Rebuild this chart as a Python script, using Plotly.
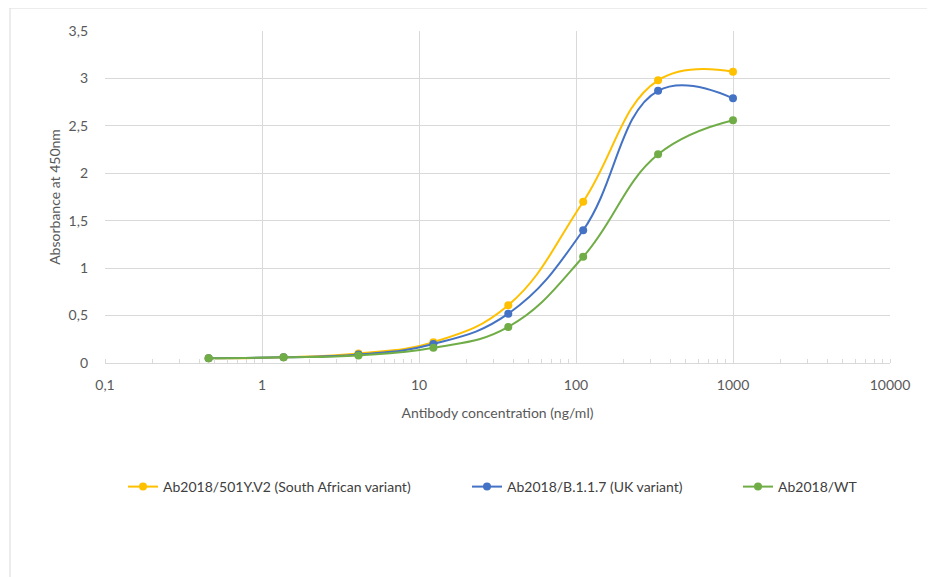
import plotly.graph_objects as go

# ---- data ----
concentration = [0.457, 1.372, 4.115, 12.35, 37.04, 111.1, 333.3, 1000]
sa_variant = [0.05, 0.06, 0.10, 0.22, 0.61, 1.70, 2.98, 3.07]
uk_variant = [0.05, 0.06, 0.09, 0.20, 0.52, 1.40, 2.87, 2.79]
wild_type = [0.05, 0.06, 0.08, 0.16, 0.38, 1.12, 2.20, 2.56]

series_names = ["Ab2018/501Y.V2 (South African variant)",
                "Ab2018/B.1.1.7 (UK variant)",
                "Ab2018/WT"]
series_colors = ["#FFC000", "#4472C4", "#70AD47"]

x_tick_vals = [0.1, 1, 10, 100, 1000, 10000]
x_tick_text = ["0,1", "1", "10", "100", "1000", "10000"]
y_tick_vals = [0, 0.5, 1, 1.5, 2, 2.5, 3, 3.5]
y_tick_text = ["0", "0,5", "1", "1,5", "2", "2,5", "3", "3,5"]

FONT = "Lato"
FS = 14
OFF = 8  # page body margin
W, H = 935 - OFF, 577 - OFF
# plot area in screen pixels
SX0, SX1, SY0, SY1 = 105, 890, 31, 363
L = SX0 - OFF
R = W - (SX1 - OFF)
T = SY0 - OFF
B = H - (SY1 - OFF)
pw, ph = SX1 - SX0, SY1 - SY0


def px_to_paper_x(sx):
    return (sx - SX0) / pw


def px_to_paper_y(sy):
    return (SY1 - sy) / ph


fig = go.Figure()
legends = ["legend", "legend2", "legend3"]
for vals, name, color, lg in zip([sa_variant, uk_variant, wild_type],
                                 series_names, series_colors, legends):
    fig.add_trace(go.Scatter(
        x=concentration, y=vals, name=name, mode="lines+markers",
        line=dict(color=color, width=2, shape="spline", smoothing=1.2),
        marker=dict(color=color, size=8),
        legend=lg,
    ))

legend_x_px = [123, 467, 738]
legend_common = dict(orientation="h", yanchor="middle", xanchor="left",
                     font=dict(family=FONT, size=FS, color="#404040"),
                     bgcolor="rgba(0,0,0,0)")
legend_layouts = {}
for lg, xp in zip(legends, legend_x_px):
    legend_layouts[lg] = dict(x=px_to_paper_x(xp), y=px_to_paper_y(487),
                              **legend_common)

fig.update_layout(
    width=W, height=H,
    margin=dict(l=L, r=R, t=T, b=B),
    plot_bgcolor="white", paper_bgcolor="white",
    font=dict(family=FONT, size=FS, color="#595959"),
    showlegend=True,
    **legend_layouts,
    xaxis=dict(
        type="log", range=[-1, 4],
        tickmode="array", tickvals=x_tick_vals, ticktext=x_tick_text,
        showgrid=True, gridcolor="#d9d9d9", gridwidth=1,
        showline=True, linecolor="#d9d9d9", linewidth=1,
        ticks="", zeroline=False, ticklabelstandoff=9,
        minor=dict(ticks="inside", ticklen=4, tickcolor="#d9d9d9",
                   dtick="D1", showgrid=False),
        tickfont=dict(family=FONT, size=FS, color="#595959"),
        title=dict(text="Antibody concentration (ng/ml)",
                   font=dict(family=FONT, size=FS, color="#595959"),
                   standoff=16),
    ),
    yaxis=dict(
        range=[0, 3.5],
        tickmode="array", tickvals=y_tick_vals, ticktext=y_tick_text,
        showgrid=True, gridcolor="#d9d9d9", gridwidth=1,
        zeroline=False, ticks="", ticklabelstandoff=16,
        tickfont=dict(family=FONT, size=FS, color="#595959"),
        title=dict(text="Absorbance at 450nm",
                   font=dict(family=FONT, size=FS, color="#595959"),
                   standoff=4),
    ),
    shapes=[
        dict(type="line", xref="paper", yref="paper",
             x0=px_to_paper_x(10), x1=px_to_paper_x(10),
             y0=px_to_paper_y(577), y1=px_to_paper_y(8),
             line=dict(color="#d9d9d9", width=1)),
        dict(type="line", xref="paper", yref="paper",
             x0=px_to_paper_x(10), x1=px_to_paper_x(935),
             y0=px_to_paper_y(8), y1=px_to_paper_y(8),
             line=dict(color="#d9d9d9", width=1)),
    ],
)

fig.write_html("out.html")
